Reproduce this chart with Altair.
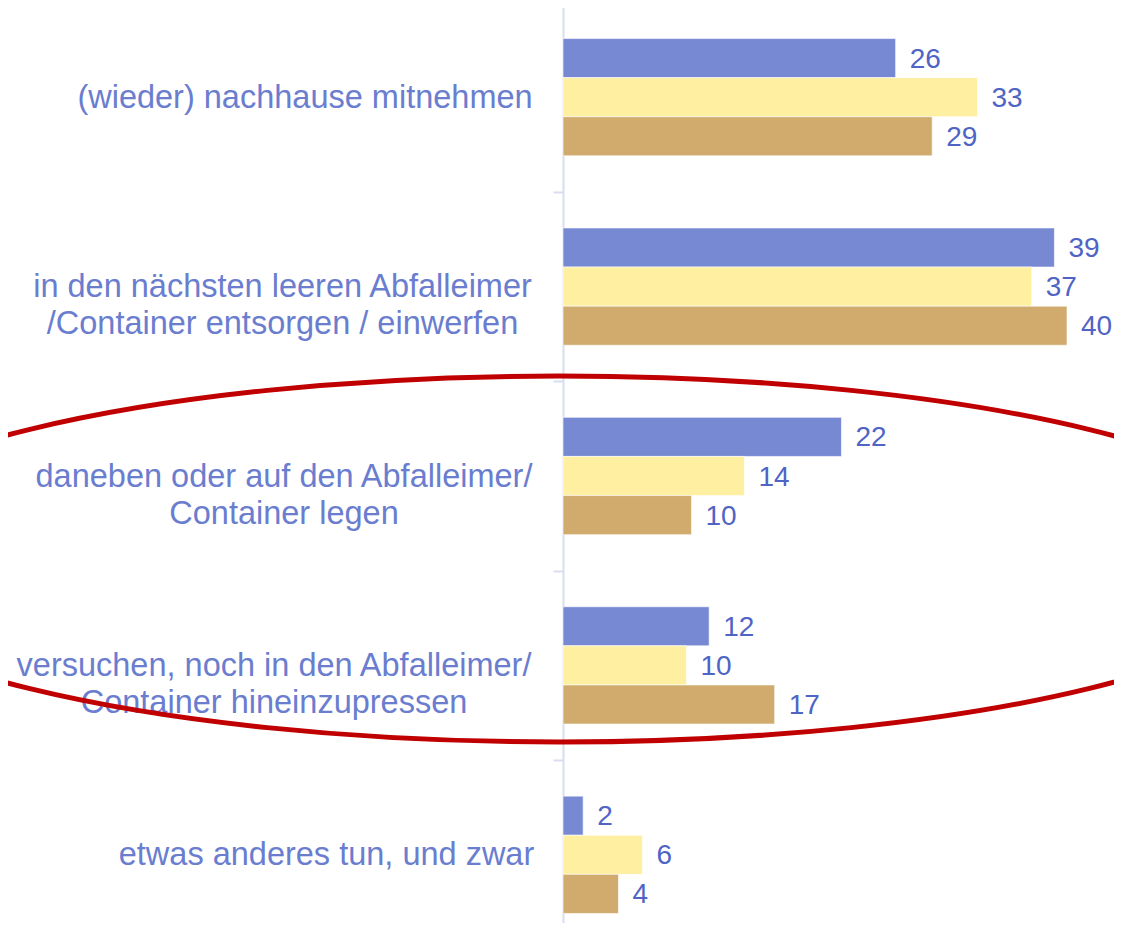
import json
import altair as alt
import pandas as pd

# ---- data -------------------------------------------------------------
categories = [
    "(wieder) nachhause mitnehmen",
    "in den nächsten leeren Abfalleimer\n/Container entsorgen / einwerfen",
    "daneben oder auf den Abfalleimer/\nContainer legen",
    "versuchen, noch in den Abfalleimer/\nContainer hineinzupressen",
    "etwas anderes tun, und zwar",
]
series = ["Gruppe 1", "Gruppe 2", "Gruppe 3"]
values_1 = [26.4, 39.0, 22.1, 11.6, 1.6]
values_2 = [32.9, 37.2, 14.4, 9.8, 6.3]
values_3 = [29.3, 40.0, 10.2, 16.8, 4.4]

rows = []
for s, vals in zip(series, [values_1, values_2, values_3]):
    for c, v in zip(categories, vals):
        rows.append({"Kategorie": c, "Gruppe": s, "Wert": v})
df = pd.DataFrame(rows)

# ---- styling ----------------------------------------------------------
FONT = "Liberation Sans"
colors = ["#7889D4", "#FFEFA1", "#D0AB6D"]
label_color = "#6A7DCF"
value_color = "#4F64C5"
axis_color = "#DADDF0"

# horizontal distance of each centred label block from the axis (minus tick)
label_pad = [248.5, 271, 269.5, 279.5, 227]
pad_cond = {
    "condition": [
        {"test": f"datum.value === {json.dumps(c)}", "value": p}
        for c, p in zip(categories, label_pad)
    ],
    "value": 270,
}

x_scale = alt.Scale(domain=[0, 551 / 12.6], nice=False, zero=True)
y_scale = alt.Scale(domain=categories, range=[-5.5, 941.5],
                    paddingInner=0, paddingOuter=0)
yoff_scale = alt.Scale(domain=series, paddingInner=0, paddingOuter=0.922)

base = alt.Chart(df).encode(
    x=alt.X("Wert:Q", scale=x_scale, axis=None),
    y=alt.Y(
        "Kategorie:N",
        scale=y_scale,
        sort=categories,
        axis=alt.Axis(
            title=None,
            domainColor=axis_color,
            domainWidth=2,
            tickColor=axis_color,
            tickWidth=2,
            tickSize=10,
            tickBand="extent",
            labelFont=FONT,
            labelFontSize=32.5,
            labelColor=label_color,
            labelAlign="center",
            labelBaseline="middle",
            labelLineHeight=37,
            labelLimit=0,
            labelPadding=pad_cond,
            labelExpr="split(datum.label, '\\n')",
        ),
    ),
    yOffset=alt.YOffset("Gruppe:N", scale=yoff_scale, sort=series),
)

bars = base.mark_bar(stroke="white", strokeWidth=1, strokeOpacity=0.6).encode(
    color=alt.Color("Gruppe:N", scale=alt.Scale(domain=series, range=colors),
                    legend=None)
)

texts = base.mark_text(
    align="left", baseline="middle", dx=14, dy=1.5, fontSize=28, font=FONT,
    color=value_color,
).encode(text=alt.Text("Wert:Q", format=".0f"))

# red ellipse highlighting categories 3 and 4
b = 0.244
kb = round(0.5523 * b, 4)
ellipse_path = (
    f"M -1 0 C -1 {-kb} -0.5523 {-b} 0 {-b} "
    f"C 0.5523 {-b} 1 {-kb} 1 0 "
    f"C 1 {kb} 0.5523 {b} 0 {b} "
    f"C -0.5523 {b} -1 {kb} -1 0 Z"
)
ellipse = alt.Chart(pd.DataFrame({"markierung": [1]})).mark_point(
    shape=ellipse_path, size=1500 ** 2, filled=False, stroke="#C00000",
    strokeWidth=5, opacity=1, yOffset=83,
).encode(
    x=alt.datum(-0.3),
    y=alt.datum(categories[2]),
)

chart = alt.layer(bars, texts, ellipse).properties(
    width=551,
    height=915,
    autosize=alt.AutoSizeParams(type="none"),
    padding={"left": 555, "top": 0, "right": 0, "bottom": 0},
).configure_view(stroke=None)

chart.save("out.html", embed_options={"renderer": "svg", "actions": False})
